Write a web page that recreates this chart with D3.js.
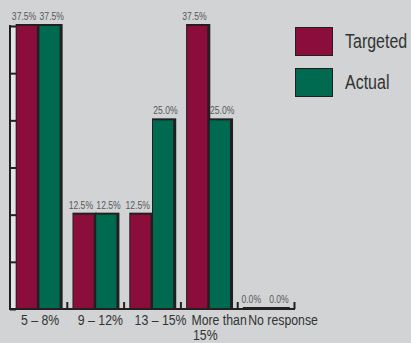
<!DOCTYPE html>
<html>
<head>
<meta charset="utf-8">
<script src="https://cdn.jsdelivr.net/npm/d3@7"></script>
<style>
  html, body { margin: 0; padding: 0; background: #d1d3d4; }
  svg { display: block; }
  text { font-family: "Liberation Sans", Arial, Helvetica, sans-serif; }
</style>
</head>
<body>
<svg id="chart" width="411" height="343"></svg>
<script>
// Share of respondents by range, targeted vs actual
const categories = ["5 – 8%", "9 – 12%", "13 – 15%", "More than 15%", "No response"];
const categoryLines = [["5 – 8%"], ["9 – 12%"], ["13 – 15%"], ["More than", "15%"], ["No response"]];
const seriesNames = ["Targeted", "Actual"];
const targeted = [37.5, 12.5, 12.5, 37.5, 0.0];
const actual = [37.5, 12.5, 25.0, 25.0, 0.0];
const yTicks = [0, 6.25, 12.5, 18.75, 25, 31.25, 37.5];

const colors = { Targeted: "#8b0d3b", Actual: "#006a50" };
const labelShift = { Targeted: -3, Actual: 2 };
const ink = "#231f20";
const narrow = 0.82; // horizontal squeeze for a condensed face

const svg = d3.select("#chart");
const plotLeft = 10, plotRight = 294, plotTop = 26, plotBottom = 309;

const x = d3.scaleBand().domain(categories).range([plotLeft, plotRight]).paddingInner(0).paddingOuter(0);
const xs = d3.scaleBand().domain(seriesNames).range([0, x.bandwidth()]).paddingInner(0).paddingOuter(0.25);
const y = d3.scaleLinear().domain([0, 37.5]).range([plotBottom, plotTop]);

const rows = categories.map((c, i) => ({ cat: c, values: [
  { key: "Targeted", v: targeted[i] },
  { key: "Actual", v: actual[i] }
]}));

const place = (px, py) => `translate(${px},${py}) scale(${narrow},1)`;

// light strip between the value axis and the first bar
svg.append("rect")
  .attr("x", plotLeft + 1).attr("y", plotTop)
  .attr("width", x(categories[0]) + xs("Targeted") - plotLeft - 1)
  .attr("height", plotBottom - plotTop)
  .attr("fill", "#e3e4e5");

// value axis ticks (drawn inward)
const yAxis = d3.axisRight(y).tickValues(yTicks).tickSize(6).tickFormat("");
const gy = svg.append("g").attr("transform", `translate(${plotLeft},0)`).call(yAxis);
gy.select(".domain").remove();
gy.selectAll(".tick line").attr("stroke", ink).attr("stroke-width", 2);

// bars
const groups = svg.selectAll("g.cat").data(rows).join("g")
  .attr("class", "cat")
  .attr("transform", d => `translate(${x(d.cat)},0)`);

groups.selectAll("rect.shadow").data(d => d.values).join("rect")
  .attr("class", "shadow")
  .attr("x", d => xs(d.key))
  .attr("y", d => y(d.v) - 2)
  .attr("width", xs.bandwidth() + 1.5)
  .attr("height", d => plotBottom - y(d.v) + 2)
  .attr("fill", ink);

groups.selectAll("rect.bar").data(d => d.values).join("rect")
  .attr("class", "bar")
  .attr("x", d => xs(d.key) + 1)
  .attr("y", d => y(d.v))
  .attr("width", xs.bandwidth() - 2.5)
  .attr("height", d => Math.max(0, plotBottom - y(d.v)))
  .attr("fill", d => colors[d.key]);

groups.selectAll("text.val").data(d => d.values).join("text")
  .attr("class", "val")
  .attr("transform", d => place(xs(d.key) + xs.bandwidth() / 2 + labelShift[d.key], y(d.v) - 6))
  .attr("text-anchor", "middle")
  .attr("font-size", 10.5)
  .attr("fill", "#58595b")
  .text(d => d.v.toFixed(1) + "%");

// category axis with upward ticks at band edges
const edges = categories.map(c => x(c) + x.bandwidth());
const xEdge = d3.scaleLinear().domain([plotLeft, plotRight]).range([plotLeft, plotRight]);
const xAxis = d3.axisTop(xEdge).tickValues(edges).tickSize(7).tickSizeOuter(0).tickFormat("");
const gx = svg.append("g").attr("transform", `translate(0,${plotBottom})`).call(xAxis);
gx.select(".domain").attr("stroke", ink).attr("stroke-width", 2).attr("d", `M${plotLeft - 1},0H${plotRight + 1}`);
gx.selectAll(".tick line").attr("stroke", ink).attr("stroke-width", 2);

// value axis line
svg.append("line")
  .attr("x1", plotLeft).attr("x2", plotLeft).attr("y1", plotTop - 1).attr("y2", plotBottom + 1)
  .attr("stroke", ink).attr("stroke-width", 2);

// category labels, left aligned inside each band
svg.selectAll("text.cat").data(categories).join("text")
  .attr("class", "cat")
  .attr("transform", d => place(x(d) + 11, 325))
  .attr("font-size", 15)
  .attr("fill", "#333")
  .each(function(d, i) {
    const t = d3.select(this);
    categoryLines[i].forEach((line, j) => {
      t.append("tspan").attr("x", j ? 2 : 0).attr("dy", j ? 15 : 0).text(line);
    });
  });

// legend
const legend = svg.append("g").attr("transform", "translate(295,27)");
const li = legend.selectAll("g").data(seriesNames).join("g")
  .attr("transform", (d, i) => `translate(0,${i * 41})`);
li.append("rect")
  .attr("x", 0.5).attr("y", 0.5).attr("width", 37).attr("height", 28)
  .attr("fill", d => colors[d]).attr("stroke", ink).attr("stroke-width", 1);
li.append("text")
  .attr("transform", place(50, 21))
  .attr("font-size", 19.5)
  .attr("fill", "#333")
  .text(d => d);
</script>
</body>
</html>
